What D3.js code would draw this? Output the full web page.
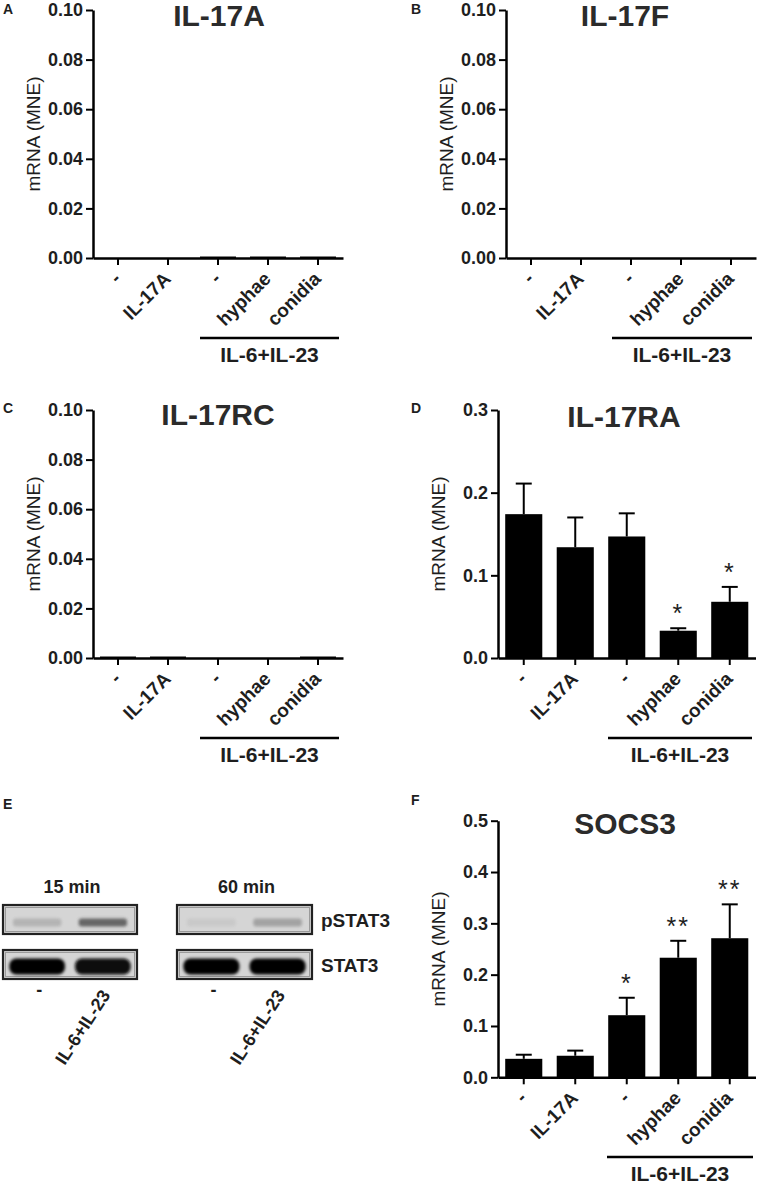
<!DOCTYPE html>
<html>
<head>
<meta charset="utf-8">
<script src="https://cdn.jsdelivr.net/npm/d3@7"></script>
<style>
  body { margin: 0; background: #fff; }
  svg { display: block; font-family: "Liberation Sans", Arial, sans-serif; }
</style>
</head>
<body>
<svg id="fig" width="758" height="1184"></svg>
<script>
// groups on the x axis (same in every bar panel)
const groups = ["-", "IL-17A", "-", "hyphae", "conidia"];
const bracketLabel = "IL-6+IL-23";

const il17aMean = [0, 0, 0.0006, 0.0006, 0.0006];
const il17fMean = [0, 0, 0, 0, 0];
const il17rcMean = [0.0006, 0.0006, 0, 0, 0.0006];
const il17raMean = [0.174, 0.134, 0.147, 0.033, 0.068];
const il17raSem = [0.037, 0.036, 0.028, 0.003, 0.018];
const il17raStars = ["", "", "", "*", "*"];
const socs3Mean = [0.036, 0.042, 0.121, 0.233, 0.271];
const socs3Sem = [0.008, 0.010, 0.034, 0.033, 0.066];
const socs3Stars = ["", "", "*", "**", "**"];

const smallTicks = [0, 0.02, 0.04, 0.06, 0.08, 0.10];
const raTicks = [0, 0.1, 0.2, 0.3];
const socsTicks = [0, 0.1, 0.2, 0.3, 0.4, 0.5];

// western blot (panel E)
const blotTimes = ["15 min", "60 min"];
const blotLanes = ["-", "IL-6+IL-23"];
const blotRows = ["pSTAT3", "STAT3"];
const pstat3Signal = [[0.15, 0.6], [0.03, 0.25]];
const stat3Signal = [[1.0, 0.95], [1.0, 1.0]];

const ink = "#1e1e1e";
const svg = d3.select("#fig");

const defs = svg.append("defs");
defs.append("filter").attr("id", "blur")
  .attr("x", "-20%").attr("y", "-50%").attr("width", "140%").attr("height", "200%")
  .append("feGaussianBlur").attr("stdDeviation", 1.6);

function panelLetter(t, x, y) {
  svg.append("text").attr("x", x).attr("y", y)
    .attr("font-size", 14).attr("font-weight", "bold").attr("fill", ink).text(t);
}

function drawBarPanel(p) {
  const g = svg.append("g");
  const x = d3.scaleBand().domain(d3.range(groups.length)).range([p.x0, p.x1]).paddingInner(0.28).paddingOuter(0.14);
  const xc = d3.scaleBand().domain(d3.range(groups.length)).range([p.x0, p.x1]);
  const y = d3.scaleLinear().domain([0, p.ticks[p.ticks.length - 1]]).range([p.y1, p.y0]);

  // bars
  g.selectAll("rect.bar").data(p.mean).enter().append("rect")
    .attr("x", (d, i) => xc(i) + xc.bandwidth() / 2 - x.bandwidth() / 2)
    .attr("width", x.bandwidth())
    .attr("y", d => y(d))
    .attr("height", d => y(0) - y(d))
    .attr("fill", "#000");

  // error bars (upper only)
  if (p.sem) {
    p.mean.forEach((m, i) => {
      const cx = xc(i) + xc.bandwidth() / 2;
      const top = y(m + p.sem[i]);
      g.append("line").attr("x1", cx).attr("x2", cx).attr("y1", y(m)).attr("y2", top)
        .attr("stroke", "#000").attr("stroke-width", 2);
      g.append("line").attr("x1", cx - 8).attr("x2", cx + 8).attr("y1", top).attr("y2", top)
        .attr("stroke", "#000").attr("stroke-width", 2);
      if (p.stars && p.stars[i]) {
        g.append("text").attr("x", cx).attr("y", top - 6)
          .attr("text-anchor", "middle").attr("font-size", 25).attr("letter-spacing", 2)
          .attr("fill", ink).text(p.stars[i]);
      }
    });
  }

  // y axis
  const ya = g.append("g").attr("transform", `translate(${p.x0},0)`)
    .call(d3.axisLeft(y).tickValues(p.ticks).tickFormat(d3.format(p.fmt)).tickSize(7).tickSizeOuter(0).tickPadding(3));
  ya.select(".domain").attr("stroke", "#000").attr("stroke-width", 2.5);
  ya.selectAll(".tick line").attr("stroke", "#000").attr("stroke-width", 2);
  ya.selectAll(".tick text").attr("font-size", 18).attr("font-weight", "bold").attr("fill", ink)
    .attr("font-family", "Liberation Sans, Arial, sans-serif");

  // x axis
  const xa = g.append("g").attr("transform", `translate(0,${p.y1})`)
    .call(d3.axisBottom(xc).tickSize(7).tickSizeOuter(0).tickFormat(i => groups[i]));
  xa.select(".domain").attr("stroke", "#000").attr("stroke-width", 2.5);
  xa.selectAll(".tick line").attr("stroke", "#000").attr("stroke-width", 2);
  xa.selectAll(".tick text")
    .attr("font-size", 19).attr("font-weight", "bold").attr("fill", ink)
    .attr("font-family", "Liberation Sans, Arial, sans-serif")
    .attr("text-anchor", "end").attr("dy", null).attr("y", null)
    .attr("transform", "translate(4,22) rotate(-45)");

  // y axis title
  g.append("text")
    .attr("transform", `translate(${p.x0 - 53},${(p.y0 + p.y1) / 2}) rotate(-90)`)
    .attr("text-anchor", "middle").attr("font-size", 19).attr("fill", ink)
    .text("mRNA (MNE)");

  // panel title
  g.append("text").attr("x", p.titleX).attr("y", p.titleY)
    .attr("text-anchor", "middle").attr("font-size", 30).attr("font-weight", "bold")
    .attr("fill", "#2b2b2b").text(p.title);

  // bracket for the IL-6+IL-23 groups
  g.append("line").attr("x1", p.bracket[0]).attr("x2", p.bracket[1])
    .attr("y1", p.bracketY).attr("y2", p.bracketY)
    .attr("stroke", "#000").attr("stroke-width", 2.5);
  g.append("text").attr("x", (p.bracket[0] + p.bracket[1]) / 2).attr("y", p.bracketY + 24)
    .attr("text-anchor", "middle").attr("font-size", 21).attr("font-weight", "bold")
    .attr("fill", ink).text(bracketLabel);

  panelLetter(p.letter, p.letterX, p.letterY);
}

drawBarPanel({ letter: "A", letterX: 3, letterY: 14, title: "IL-17A", titleX: 219, titleY: 26,
  mean: il17aMean, ticks: smallTicks, fmt: ".2f",
  x0: 93, x1: 343, y0: 10, y1: 258, bracket: [200, 339], bracketY: 338 });

drawBarPanel({ letter: "B", letterX: 411, letterY: 14, title: "IL-17F", titleX: 625, titleY: 26,
  mean: il17fMean, ticks: smallTicks, fmt: ".2f",
  x0: 506, x1: 756, y0: 10, y1: 258, bracket: [612, 752], bracketY: 338 });

drawBarPanel({ letter: "C", letterX: 3, letterY: 413, title: "IL-17RC", titleX: 218, titleY: 425,
  mean: il17rcMean, ticks: smallTicks, fmt: ".2f",
  x0: 93, x1: 343, y0: 410, y1: 658, bracket: [200, 339], bracketY: 738 });

drawBarPanel({ letter: "D", letterX: 411, letterY: 413, title: "IL-17RA", titleX: 624, titleY: 427,
  mean: il17raMean, sem: il17raSem, stars: il17raStars, ticks: raTicks, fmt: ".1f",
  x0: 498, x1: 755.5, y0: 410, y1: 658, bracket: [608, 752], bracketY: 738 });

drawBarPanel({ letter: "F", letterX: 411, letterY: 805, title: "SOCS3", titleX: 625, titleY: 834,
  mean: socs3Mean, sem: socs3Sem, stars: socs3Stars, ticks: socsTicks, fmt: ".1f",
  x0: 498, x1: 755.5, y0: 820.7, y1: 1077.3, bracket: [607, 753], bracketY: 1157 });

// ---- panel E: blots ----
panelLetter("E", 3, 809);
const blotX = d3.scaleOrdinal().domain(blotTimes).range([[3, 137], [177, 312]]);
const rowY = d3.scaleOrdinal().domain(blotRows).range([[905, 934], [950, 979]]);
const signals = { pSTAT3: pstat3Signal, STAT3: stat3Signal };
const shade = d3.scaleLinear().domain([0, 1]).range(["#cdcdcd", "#000"]);

blotTimes.forEach((t, ti) => {
  const [bx0, bx1] = blotX(t);
  const lane = d3.scaleBand().domain(blotLanes).range([bx0, bx1]).paddingInner(0.08).paddingOuter(0.06);
  svg.append("text").attr("x", (bx0 + bx1) / 2 + 2).attr("y", 893)
    .attr("text-anchor", "middle").attr("font-size", 18).attr("font-weight", "bold")
    .attr("fill", ink).text(t);

  blotRows.forEach(r => {
    const [ry0, ry1] = rowY(r);
    svg.append("rect").attr("x", bx0).attr("y", ry0).attr("width", bx1 - bx0).attr("height", ry1 - ry0)
      .attr("fill", "#d5d5d5").attr("stroke", "#222").attr("stroke-width", 2.2);
    svg.append("rect").attr("x", bx0 + 2.5).attr("y", ry0 + 2.5).attr("width", bx1 - bx0 - 5).attr("height", ry1 - ry0 - 5)
      .attr("fill", "none").attr("stroke", "#9a9a9a").attr("stroke-width", 1);
    const isTotal = r === "STAT3";
    blotLanes.forEach((ln, li) => {
      const v = signals[r][ti][li];
      const cx = lane(ln) + lane.bandwidth() / 2;
      const w = isTotal ? lane.bandwidth() * 0.92 : lane.bandwidth() * 0.8;
      const h = isTotal ? 16 : 8;
      const cy = isTotal ? (ry0 + ry1) / 2 + 2 : (ry0 + ry1) / 2 + 3;
      svg.append("rect").attr("x", cx - w / 2).attr("y", cy - h / 2).attr("width", w).attr("height", h)
        .attr("rx", isTotal ? 7 : 3)
        .attr("fill", shade(v)).attr("opacity", isTotal ? 1 : 0.85)
        .attr("filter", "url(#blur)");
    });
  });

  blotLanes.forEach(ln => {
    const cx = lane(ln) + lane.bandwidth() / 2;
    if (ln === "-") {
      svg.append("text").attr("x", cx + 2).attr("y", 996).attr("text-anchor", "middle")
        .attr("font-size", 18).attr("font-weight", "bold").attr("fill", ink).text(ln);
    } else {
      svg.append("text").attr("transform", `translate(${cx + 8},995) rotate(-57)`)
        .attr("text-anchor", "end").attr("font-size", 18).attr("font-weight", "bold")
        .attr("fill", ink).text(ln);
    }
  });
});

blotRows.forEach(r => {
  const [ry0, ry1] = rowY(r);
  svg.append("text").attr("x", 321).attr("y", (ry0 + ry1) / 2 + 7)
    .attr("font-size", 19).attr("font-weight", "bold").attr("fill", ink).text(r);
});
</script>
</body>
</html>
